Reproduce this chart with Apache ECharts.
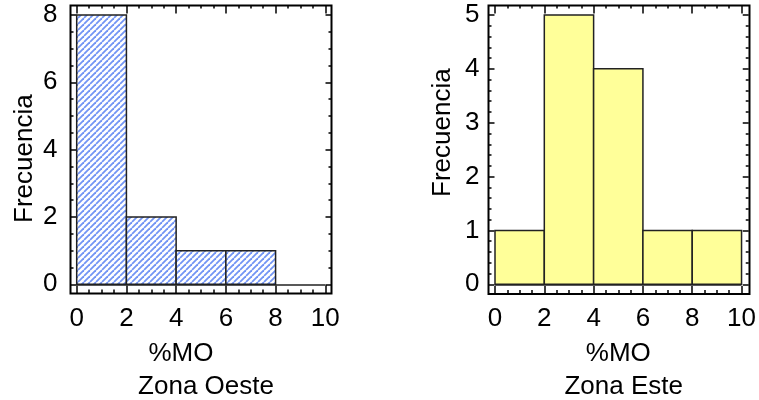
<!DOCTYPE html>
<html>
<head>
<meta charset="utf-8">
<script src="https://cdn.jsdelivr.net/npm/echarts@6/dist/echarts.min.js"></script>
<style>
  html, body { margin: 0; padding: 0; background: #fff; }
  #chart { width: 759px; height: 400px; }
</style>
</head>
<body>
<div id="chart"></div>
<script>
// histogram data: %MO bins and frequencies
const binEdges = [0, 2, 4, 6, 8, 10];
const oesteCounts = [8, 2, 1, 1, 0];
const esteCounts = [1, 5, 4, 1, 1];
const xTitle = '%MO';
const yTitle = 'Frecuencia';
const zoneNames = ['Zona Oeste', 'Zona Este'];

const FONT = '"Liberation Sans", Arial, sans-serif';
const FS = 26;

function binsOf(counts) {
  return counts.map((c, i) => [binEdges[i], binEdges[i + 1], c]);
}

// diagonal hatch for the west histogram
function hatch() {
  const s = 6;
  const cv = document.createElement('canvas');
  cv.width = s; cv.height = s;
  const ctx = cv.getContext('2d');
  ctx.fillStyle = '#ffffff';
  ctx.fillRect(0, 0, s, s);
  ctx.strokeStyle = '#7294f4';
  ctx.lineWidth = 1.8;
  for (let k = -1; k <= 1; k++) {
    ctx.beginPath();
    ctx.moveTo(k * s, s);
    ctx.lineTo(k * s + s, 0);
    ctx.stroke();
  }
  return { image: cv, repeat: 'repeat' };
}

function renderBin(fill) {
  return function (params, api) {
    if (api.value(2) <= 0) return null;
    const a = api.coord([api.value(0), api.value(2)]);
    const b = api.coord([api.value(1), 0]);
    return {
      type: 'rect',
      shape: { x: a[0], y: a[1], width: b[0] - a[0], height: b[1] - a[1] },
      style: { fill: fill, stroke: '#222', lineWidth: 1.5 }
    };
  };
}

const panels = [
  { frame: [70.5, 5.5, 331.5, 293.5], data: [76.7, 15, 325.3, 284.3], ymax: 8, yint: 2, ysplit: 4,
    counts: oesteCounts, fill: hatch(), xNamePad: [0, 40, 0, 0], yNamePad: [0, 18, 0, 0], ylabMargin: 13 },
  { frame: [488.5, 5.5, 749.5, 294], data: [495, 15, 742.3, 284.3], ymax: 5, yint: 1, ysplit: 5,
    counts: esteCounts, fill: '#ffff99', xNamePad: [0, 0, 0, 0], yNamePad: [0, 0, 0, 34], ylabMargin: 9 }
];

const W = 759, H = 400;
const tickStyle = { color: '#000', width: 1.5 };
const grid = [], xAxis = [], yAxis = [], series = [], title = [];

panels.forEach((p, i) => {
  const fg = grid.length;
  const [fl, ft, fr, fb] = p.frame;
  const [dl, dt, dr, db] = p.data;
  grid.push({ left: fl, top: ft, right: W - fr, bottom: H - fb, show: true,
    borderColor: '#000', borderWidth: 2, backgroundColor: 'transparent' });
  const dg = grid.length;
  grid.push({ left: dl, top: dt, right: W - dr, bottom: H - db });

  xAxis.push({ gridIndex: fg, type: 'value', show: false, min: 0, max: 1 });
  yAxis.push({ gridIndex: fg, type: 'value', show: false, min: 0, max: 1 });

  const xBase = {
    gridIndex: dg, type: 'value', min: 0, max: 10, interval: 2,
    axisLine: { show: false, onZero: false },
    axisTick: { show: true, inside: true, length: 8, lineStyle: tickStyle },
    minorTick: { show: true, splitNumber: 4, length: 4, lineStyle: tickStyle },
    splitLine: { show: false }
  };
  const bx = xAxis.length;
  xAxis.push(Object.assign({}, xBase, {
    position: 'bottom', offset: fb - db,
    axisLabel: { color: '#000', fontFamily: FONT, fontSize: FS, margin: 12 },
    name: xTitle, nameLocation: 'middle', nameGap: 47,
    nameTextStyle: { color: '#000', fontFamily: FONT, fontSize: FS, padding: p.xNamePad }
  }));
  xAxis.push(Object.assign({}, xBase, {
    position: 'top', offset: dt - ft, axisLabel: { show: false },
    minorTick: { show: true, splitNumber: 4, length: 3, lineStyle: tickStyle }
  }));

  const yBase = {
    gridIndex: dg, type: 'value', min: 0, max: p.ymax, interval: p.yint,
    axisLine: { show: false, onZero: false },
    axisTick: { show: true, inside: true, length: 6, lineStyle: tickStyle },
    minorTick: { show: true, splitNumber: p.ysplit, length: 3, lineStyle: tickStyle },
    splitLine: { show: false }
  };
  const by = yAxis.length;
  yAxis.push(Object.assign({}, yBase, {
    position: 'left', offset: dl - fl,
    axisLabel: { color: '#000', fontFamily: FONT, fontSize: FS, margin: p.ylabMargin },
    name: yTitle, nameLocation: 'middle', nameGap: 33,
    nameTextStyle: { color: '#000', fontFamily: FONT, fontSize: FS, padding: p.yNamePad }
  }));
  yAxis.push(Object.assign({}, yBase, {
    position: 'right', offset: fr - dr, axisLabel: { show: false }
  }));

  series.push({
    type: 'custom', xAxisIndex: bx, yAxisIndex: by,
    renderItem: renderBin(p.fill),
    data: binsOf(p.counts),
    silent: true,
    markLine: {
      silent: true, symbol: 'none', label: { show: false },
      lineStyle: { color: '#222', width: 1.5, type: 'solid' },
      data: [{ yAxis: 0 }]
    }
  });

  title.push({
    text: zoneNames[i], left: (dl + dr) / 2, top: 369, textAlign: 'center',
    textStyle: { color: '#000', fontFamily: FONT, fontSize: FS, fontWeight: 'normal' }
  });
});

const chart = echarts.init(document.getElementById('chart'), null, { renderer: 'canvas' });
chart.setOption({ animation: false, title, grid, xAxis, yAxis, series });
</script>
</body>
</html>
